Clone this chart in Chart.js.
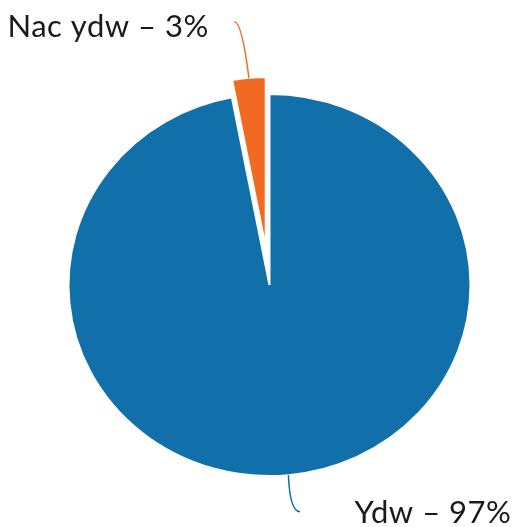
<!DOCTYPE html>
<html>
<head>
<meta charset="utf-8">
<script src="https://cdn.jsdelivr.net/npm/chart.js@4"></script>
<style>
  html, body { margin: 0; padding: 0; background: #fff; }
  #wrap { width: 518px; height: 527px; position: relative; }
</style>
</head>
<body>
<div id="wrap"><canvas id="pieChart"></canvas></div>
<script>
const categories = ['Ydw', 'Nac ydw'];
const shares = [97, 3];
const sliceColors = ['#1170aa', '#f26a21'];

const SQUASH = 0.95;        // original pie is a bit flatter than a circle
const PULL = 40;            // small slice is pulled out this far
const PULLED_SHRINK = 22;   // ...and drawn a little smaller

const pieCanvas = document.getElementById('pieChart');

// pull the small slice away from the centre
const pullSlice = {
  id: 'pullSlice',
  afterDatasetsUpdate(chart) {
    const arc = chart.getDatasetMeta(0).data[1];
    const mid = (arc.startAngle + arc.endAngle) / 2;
    arc.x += Math.cos(mid) * PULL;
    arc.y += Math.sin(mid) * PULL;
    arc.outerRadius -= PULLED_SHRINK;
  }
};

// flatten the pie vertically
const flatten = {
  id: 'flatten',
  beforeDatasetsDraw(chart) {
    const ctx = chart.ctx;
    const cy = chart.getDatasetMeta(0).data[0].y;
    ctx.save();
    ctx.translate(0, cy);
    ctx.scale(1, SQUASH);
    ctx.translate(0, -cy);
  },
  afterDatasetsDraw(chart) {
    chart.ctx.restore();
  }
};

// outside labels with curved leader lines
const leaderLabels = {
  id: 'leaderLabels',
  afterDraw(chart) {
    const ctx = chart.ctx;
    const meta = chart.getDatasetMeta(0);
    const cy = meta.data[0].y;
    const total = shares.reduce((a, b) => a + b, 0);
    ctx.save();
    ctx.font = 'normal 31px Lato';
    ctx.letterSpacing = '0.5px';
    ctx.lineWidth = 1.5;
    meta.data.forEach((arc, i) => {
      const mid = (arc.startAngle + arc.endAngle) / 2;
      const sx = arc.x + Math.cos(mid) * arc.outerRadius;
      const sy = cy + (arc.y + Math.sin(mid) * arc.outerRadius - cy) * SQUASH;
      const text = categories[i] + ' \u2013 ' + Math.round(shares[i] / total * 100) + '%';
      let ex, ey, tx, ty;
      ctx.beginPath();
      ctx.strokeStyle = sliceColors[i];
      if (Math.sin(mid) < 0) {
        ex = sx - 14.6; ey = sy - 56;
        ctx.moveTo(sx, sy);
        ctx.quadraticCurveTo(sx - 7, ey, ex, ey);
        ctx.textAlign = 'right';
        tx = ex - 25.5; ty = ey + 15.6;
      } else {
        ex = sx + 11.6; ey = sy + 36.6;
        ctx.moveTo(sx, sy);
        ctx.quadraticCurveTo(sx + 1.5, ey, ex, ey);
        ctx.textAlign = 'left';
        tx = ex + 54.5; ty = ey + 11.6;
      }
      ctx.stroke();
      ctx.fillStyle = '#1a1a1a';
      ctx.textBaseline = 'alphabetic';
      ctx.fillText(text, tx, ty);
    });
    ctx.restore();
  }
};

new Chart(pieCanvas, {
  type: 'pie',
  data: {
    labels: categories,
    datasets: [{
      data: shares,
      backgroundColor: sliceColors,
      borderColor: '#ffffff',
      borderWidth: 2
    }]
  },
  options: {
    responsive: true,
    maintainAspectRatio: false,
    animation: false,
    layout: {
      padding: { left: 67.5, right: 46.5, top: 83, bottom: 40 }
    },
    plugins: {
      legend: { display: false },
      tooltip: { enabled: false }
    }
  },
  plugins: [pullSlice, flatten, leaderLabels]
});
</script>
</body>
</html>
